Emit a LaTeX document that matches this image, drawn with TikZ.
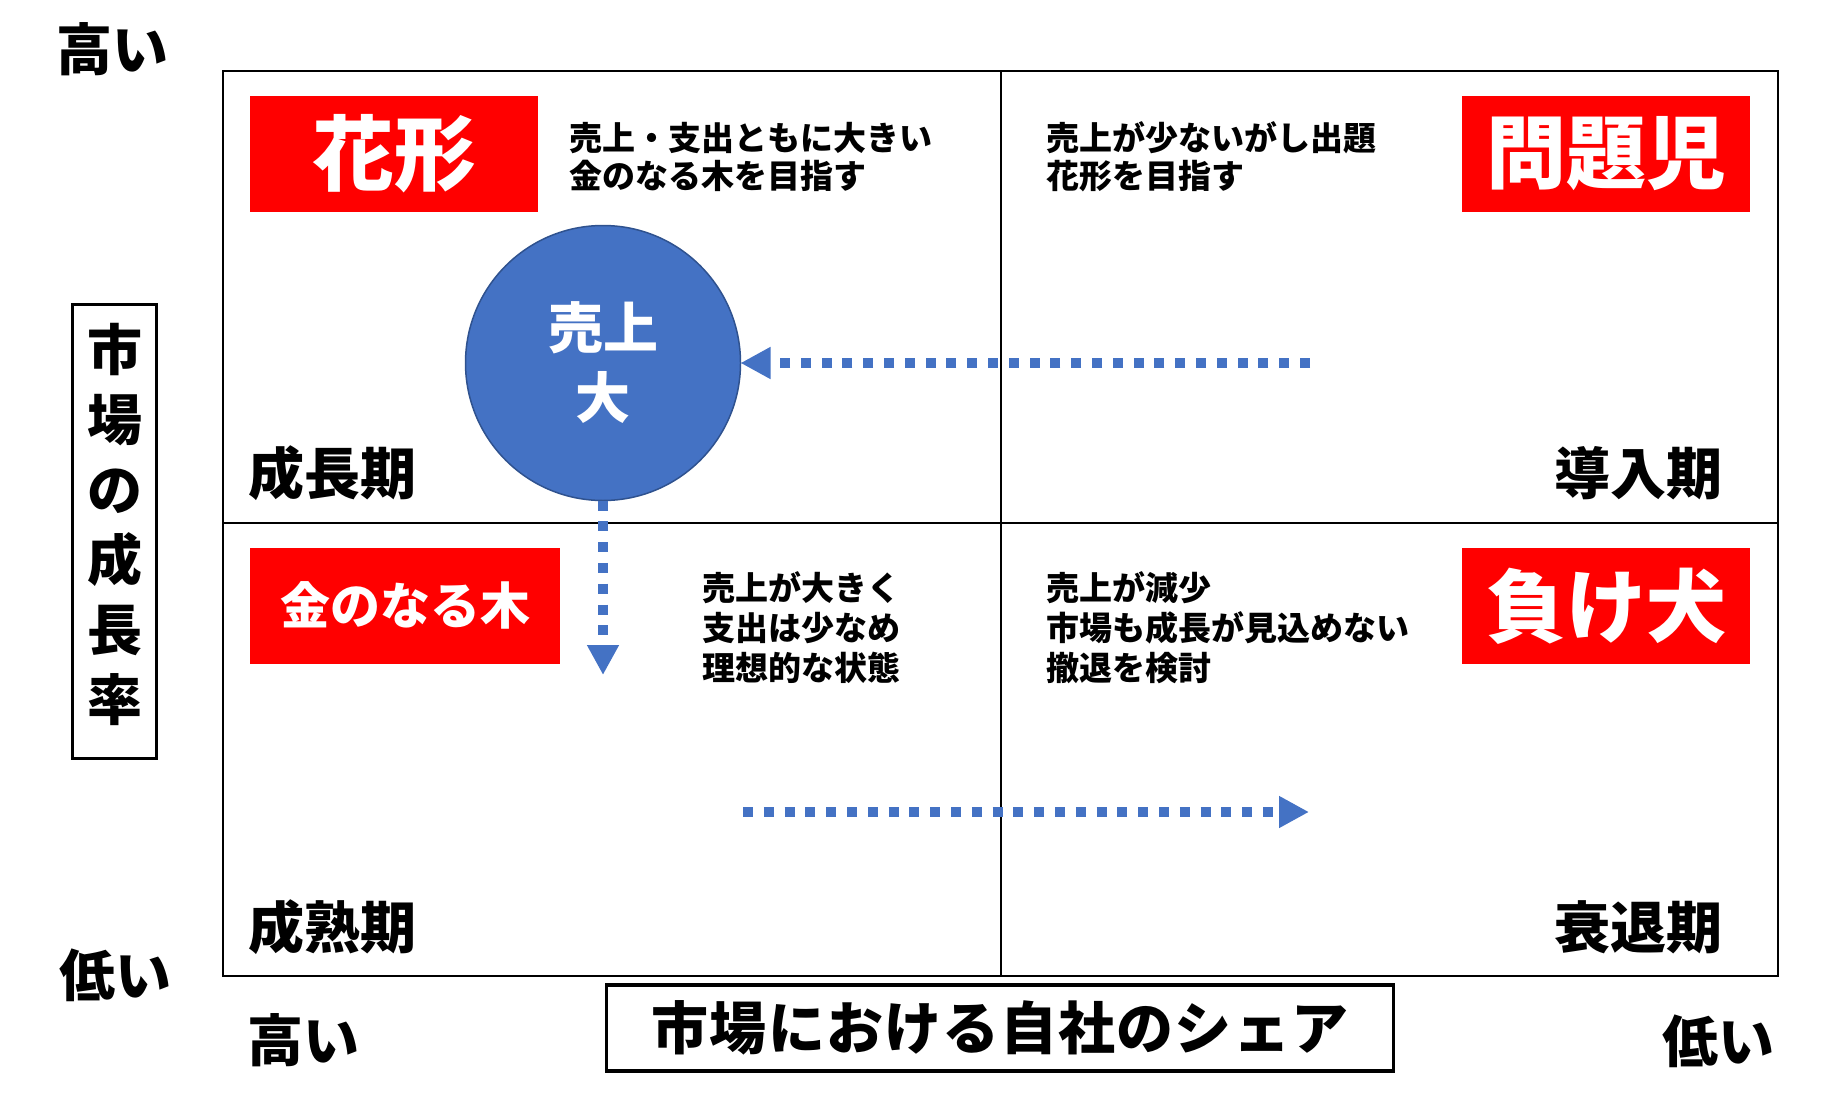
\documentclass[tikz,border=0pt]{standalone}
\usepackage{fontspec}
\setmainfont{Noto Sans CJK JP}
\usetikzlibrary{arrows.meta}
\definecolor{tagred}{HTML}{FF0000}
\definecolor{salesblue}{HTML}{4472C4}
\definecolor{salesedge}{HTML}{2F528F}
\newcommand{\fs}[2]{\fontsize{#1}{#2}\selectfont\bfseries}

\begin{document}
\begin{tikzpicture}[x=1pt,y=-1pt]
\tikzstyle{every node}+=[inner sep=0pt,outer sep=0pt]
\tikzstyle{tag}=[fill=tagred,text=white,minimum height=116pt]
\tikzstyle{memo}=[anchor=base west,align=left]
\tikzstyle{phase}=[font=\fs{56}{56}]
\tikzstyle{level}=[anchor=base,font=\fs{56}{56}]
\tikzstyle{flow}=[salesblue,line width=10pt,dash pattern=on 10pt off 10.8pt,-{Triangle[length=30pt,width=30pt]}]
\useasboundingbox (0,0) rectangle (1833,1113);
% frame and quadrants
\draw [line width=2pt] (223,71) rectangle (1778,976);
\draw [line width=2pt] (1001,71) -- (1001,976);
\draw [line width=2pt] (223,523) -- (1778,523);
% red tags
\node [tag,minimum width=288pt,font=\fs{82}{82}] (star) at (394,154) {花形};
\node [tag,minimum width=288pt,font=\fs{80}{80}] (problem) at (1606,154) {問題児};
\node [tag,minimum width=310pt,font=\fs{50}{50}] (cash) at (405,605.5) {金のなる木};
\node [tag,minimum width=288pt,font=\fs{80}{80}] (dog) at (1606,606) {負け犬};
% notes (base = last line)
\node [memo,font=\fs{33}{38}] (starmemo) at (569,188) {売上・支出ともに大きい\\金のなる木を目指す};
\node [memo,font=\fs{33}{38}] (problemmemo) at (1046,188) {売上が少ないがし出題\\花形を目指す};
\node [memo,font=\fs{33}{40}] (cashmemo) at (702,680.5) {売上が大きく\\支出は少なめ\\理想的な状態};
\node [memo,font=\fs{33}{40}] (dogmemo) at (1046,680.5) {売上が減少\\市場も成長が見込めない\\撤退を検討};
% phases
\node [phase,anchor=base west] (growphase) at (248,494) {成長期};
\node [phase,anchor=base east] (introphase) at (1722,494) {導入期};
\node [phase,anchor=base west] (maturephase) at (248,948) {成熟期};
\node [phase,anchor=base east] (declinephase) at (1722,948) {衰退期};
% sales circle and moves
\node [circle,fill=salesblue,draw=salesedge,line width=1.5pt,minimum size=275pt,text=white,align=center,font=\fs{55}{70}] (sales) at (603,363) {売上\\大};
\coordinate (introstart) at (1310,363);
\coordinate (cashend) at (603,675);
\coordinate (declinestart) at (743,812);
\coordinate (declineend) at (1309,812);
\draw [flow] (introstart) -- (sales.east);
\draw [flow] (sales.south) -- (cashend);
\draw [flow] (declinestart) -- (declineend);
% axes
\node [draw,line width=3pt,minimum width=84pt,minimum height=454pt,text depth=20pt,align=center,font=\fs{55}{70}] (growth) at (114.5,531.5) {市\\場\\の\\成\\長\\率};
\node [draw,line width=3.5pt,minimum width=787pt,minimum height=86pt,font=\fs{57}{57}\addfontfeatures{LetterSpace=2}] (share) at (1000,1028) {市場における自社のシェア};
\node [level] (vhigh) at (112,71) {高い};
\node [level] (vlow) at (115,996) {低い};
\node [level] (hhigh) at (303,1061) {高い};
\node [level] (hlow) at (1718,1062) {低い};
\end{tikzpicture}
\end{document}
